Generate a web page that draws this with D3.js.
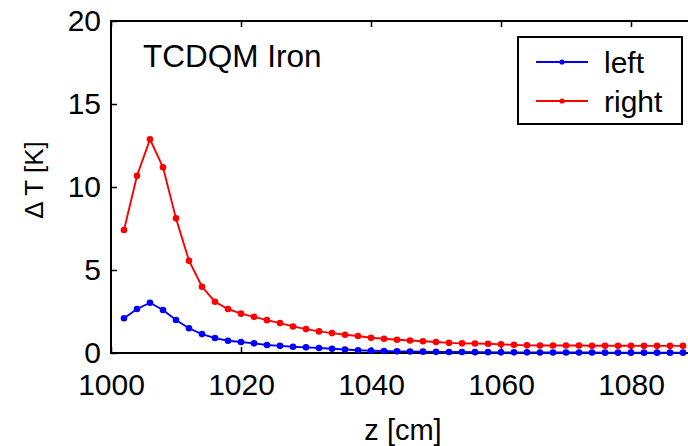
<!DOCTYPE html>
<html>
<head>
<meta charset="utf-8">
<script src="https://cdn.jsdelivr.net/npm/d3@7"></script>
<style>
  html, body { margin: 0; padding: 0; background: #fff; overflow: hidden; }
  svg { display: block; font-family: "Liberation Sans", Arial, sans-serif; }
</style>
</head>
<body>
<svg id="chart" width="688" height="446"></svg>
<script>
// Position along the absorber, z [cm]
const zPositions = [1002, 1004, 1006, 1008, 1010, 1012, 1014, 1016, 1018, 1020,
                    1022, 1024, 1026, 1028, 1030, 1032, 1034, 1036, 1038, 1040,
                    1042, 1044, 1046, 1048, 1050, 1052, 1054, 1056, 1058, 1060,
                    1062, 1064, 1066, 1068, 1070, 1072, 1074, 1076, 1078, 1080,
                    1082, 1084, 1086, 1088];

// Temperature rise, left side [K]
const leftDeltaT = [2.09, 2.65, 3.03, 2.59, 1.99, 1.49, 1.14, 0.90, 0.74, 0.66,
                    0.58, 0.48, 0.43, 0.38, 0.34, 0.30, 0.26, 0.21, 0.17, 0.14,
                    0.12, 0.10, 0.09, 0.08, 0.07, 0.06, 0.06, 0.05, 0.05, 0.04,
                    0.04, 0.04, 0.03, 0.03, 0.03, 0.03, 0.03, 0.02, 0.02, 0.02,
                    0.02, 0.02, 0.02, 0.02];

// Temperature rise, right side [K]
const rightDeltaT = [7.41, 10.68, 12.87, 11.19, 8.11, 5.56, 3.99, 3.09, 2.65, 2.37,
                     2.18, 1.98, 1.80, 1.60, 1.44, 1.30, 1.20, 1.10, 1.02, 0.92,
                     0.86, 0.80, 0.75, 0.71, 0.66, 0.61, 0.58, 0.57, 0.56, 0.52,
                     0.49, 0.46, 0.45, 0.45, 0.45, 0.45, 0.44, 0.44, 0.44, 0.44,
                     0.43, 0.43, 0.43, 0.43];

const seriesNames = ["left", "right"];
const seriesColors = ["#0000ff", "#ff0000"];

const xTicks = [1000, 1020, 1040, 1060, 1080];
const yTicks = [0, 5, 10, 15, 20];

const svg = d3.select("#chart");

const x = d3.scaleLinear().domain([1000, 1090]).range([111, 696]);
const y = d3.scaleLinear().domain([0, 20]).range([353, 21]);

const series = seriesNames.map((name, i) => ({
  name,
  color: seriesColors[i],
  values: zPositions.map((z, k) => ({ z, t: (i === 0 ? leftDeltaT : rightDeltaT)[k] }))
}));

// Axes (ticks point inward)
const gx = svg.append("g")
  .attr("transform", `translate(0,${y(0)})`)
  .call(d3.axisBottom(x).tickValues(xTicks).tickFormat(d3.format("d"))
    .tickSizeInner(-6).tickSizeOuter(0).tickPadding(21));

const gxTop = svg.append("g")
  .attr("transform", `translate(0,${y(20)})`)
  .call(d3.axisTop(x).tickValues(xTicks).tickFormat("")
    .tickSizeInner(-6).tickSizeOuter(0));

const gy = svg.append("g")
  .attr("transform", `translate(${x(1000)},0)`)
  .call(d3.axisLeft(y).tickValues(yTicks).tickFormat(d3.format("d"))
    .tickSizeInner(-6).tickSizeOuter(0).tickPadding(10));

[gx, gxTop, gy].forEach(g => {
  g.select(".domain").remove();
  g.selectAll(".tick line").attr("stroke", "#000").attr("stroke-width", 1.5);
  g.selectAll(".tick text").attr("fill", "#000").style("font-size", "30px")
   .style("font-family", "'Liberation Sans', Arial, sans-serif");
});
gy.selectAll(".tick text").attr("dy", "0.33em");

// Axes box
svg.append("rect")
  .attr("x", x(1000)).attr("y", y(20))
  .attr("width", x(1090) - x(1000)).attr("height", y(0) - y(20))
  .attr("fill", "none").attr("stroke", "#000").attr("stroke-width", 2);

// Series lines and markers
const line = d3.line().x(d => x(d.z)).y(d => y(d.t));

const sg = svg.selectAll("g.series").data(series).join("g").attr("class", "series");
sg.append("path")
  .attr("d", d => line(d.values))
  .attr("fill", "none")
  .attr("stroke", d => d.color)
  .attr("stroke-width", 1.9);
sg.selectAll("circle").data(d => d.values.map(v => ({ ...v, color: d.color })))
  .join("circle")
  .attr("cx", d => x(d.z)).attr("cy", d => y(d.t)).attr("r", 3.3)
  .attr("fill", d => d.color);

// Annotation
svg.append("text")
  .attr("x", 143).attr("y", 66.5)
  .style("font-size", "31.5px")
  .text("TCDQM Iron");

// Axis labels
svg.append("text")
  .attr("x", 403).attr("y", 440)
  .attr("text-anchor", "middle")
  .style("font-size", "29px")
  .text("z [cm]");

svg.append("text")
  .attr("transform", "translate(43,180) rotate(-90)")
  .attr("text-anchor", "middle")
  .style("font-size", "26px")
  .text("Δ T [K]");

// Legend
const legend = svg.append("g");
legend.append("rect")
  .attr("x", 518).attr("y", 37).attr("width", 164).attr("height", 87)
  .attr("fill", "#fff").attr("stroke", "#000").attr("stroke-width", 2);

const rows = legend.selectAll("g.row").data(series).join("g")
  .attr("class", "row")
  .attr("transform", (d, i) => `translate(0,${62 + i * 39})`);
rows.append("line")
  .attr("x1", 536).attr("x2", 588).attr("y1", 0).attr("y2", 0)
  .attr("stroke", d => d.color).attr("stroke-width", 1.8);
rows.append("circle")
  .attr("cx", 562).attr("cy", 0).attr("r", 2.6)
  .attr("fill", d => d.color);
rows.append("text")
  .attr("x", 604).attr("y", 11)
  .style("font-size", "30px")
  .text(d => d.name);
</script>
</body>
</html>
